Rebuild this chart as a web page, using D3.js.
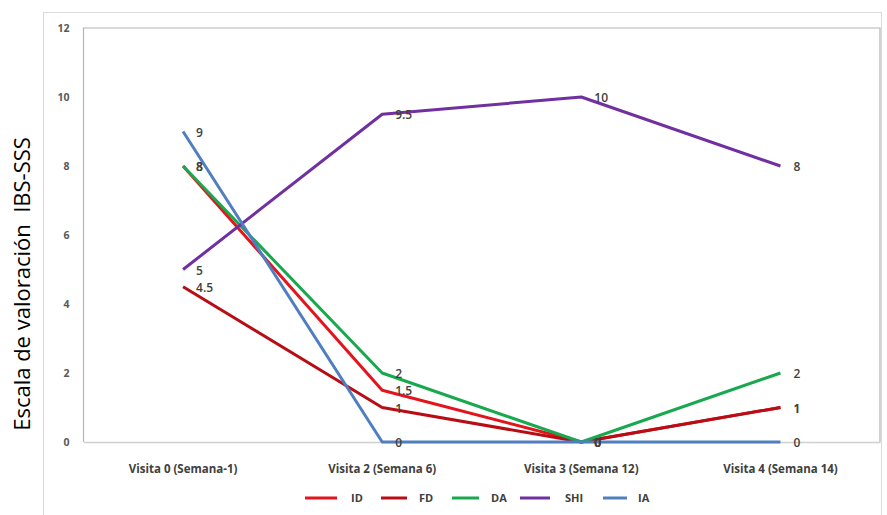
<!DOCTYPE html>
<html><head><meta charset="utf-8">
<script src="https://cdn.jsdelivr.net/npm/d3@7/dist/d3.min.js"></script>
<style>body{margin:0;background:#fff;}svg{display:block;}</style>
</head><body><svg id="c" width="887" height="515"></svg>
<script>
const categories = ["Visita 0 (Semana-1)", "Visita 2 (Semana 6)", "Visita 3 (Semana 12)", "Visita 4 (Semana 14)"];
const seriesNames = ["ID", "FD", "DA", "SHI", "IA"];
const ID  = [8, 1.5, 0, 1];
const FD  = [4.5, 1, 0, 1];
const DA  = [8, 2, 0, 2];
const SHI = [5, 9.5, 10, 8];
const IA  = [9, 0, 0, 0];
const yTicks = [0, 2, 4, 6, 8, 10, 12];
const colors = ["#e3141c", "#b80d14", "#18a84e", "#7030a0", "#4f7fc0"];
const yTitle = "Escala de valoración  IBS-SSS";

const seriesValues = [ID, FD, DA, SHI, IA];
const svg = d3.select("#c");
const pL = 83.5, pR = 880, pT = 28, pB = 442;

// outer frame
svg.append("rect").attr("x", 43.5).attr("y", 12.5).attr("width", 838).attr("height", 510)
  .attr("fill", "none").attr("stroke", "#d9d9d9").attr("stroke-width", 1);

const x = d3.scaleBand().domain(categories).range([pL, pR]);
const y = d3.scaleLinear().domain([0, 12]).range([pB, pT]);

// plot border
svg.append("path").attr("d", `M${pL},${pB}V${pT}H${pR}V${pB}`)
  .attr("fill", "none").attr("stroke", "#b5b5b5").attr("stroke-width", 1.2);

// x axis
const xa = svg.append("g").attr("transform", `translate(0,${pB})`)
  .call(d3.axisBottom(x).tickSize(0).tickPadding(0));
xa.select(".domain").attr("stroke", "#d0d0d0").attr("stroke-width", 1.5);
xa.selectAll("text").attr("y", 27).attr("dy", "0.35em")
  .attr("font-family", "Open Sans").attr("font-weight", "bold").attr("font-size", "11.5px").attr("fill", "#404040");

// y axis
const ya = svg.append("g").attr("transform", `translate(${pL},0)`)
  .call(d3.axisLeft(y).tickValues(yTicks).tickSize(0).tickPadding(14));
ya.select(".domain").remove();
ya.selectAll("text").attr("font-family", "Open Sans").attr("font-weight", "bold")
  .attr("font-size", "10.5px").attr("fill", "#595959");

// y title
svg.append("text").attr("transform", `translate(30,284) rotate(-90)`)
  .attr("text-anchor", "middle").attr("font-family", "Open Sans").attr("font-size", "22px")
  .style("white-space", "pre").attr("fill", "#000").text(yTitle);

const cx = c => x(c) + x.bandwidth() / 2;
const line = d3.line().x((d, i) => cx(categories[i])).y(d => y(d));

seriesValues.forEach((vals, s) => {
  svg.append("path").datum(vals).attr("d", line).attr("fill", "none")
    .attr("stroke", colors[s]).attr("stroke-width", 3).attr("stroke-linejoin", "round");
});
seriesValues.forEach((vals, s) => {
  svg.append("g").selectAll("text").data(vals).join("text")
    .attr("x", (d, i) => cx(categories[i]) + 13).attr("y", d => y(d) + 1)
    .attr("dy", "0.35em").attr("font-family", "Open Sans").attr("font-weight", "600")
    .attr("font-size", "12px").attr("fill", "#404040").text(d => d);
});

// legend
const legX = [305, 381, 452, 520, 603];
const legW = [32, 26, 27, 30, 24];
const legT = [351, 419, 491, 565, 638];
const lg = svg.append("g");
seriesNames.forEach((n, i) => {
  lg.append("line").attr("x1", legX[i]).attr("x2", legX[i] + legW[i]).attr("y1", 498).attr("y2", 498)
    .attr("stroke", colors[i]).attr("stroke-width", 3);
  lg.append("text").attr("x", legT[i]).attr("y", 498).attr("dy", "0.35em")
    .attr("font-family", "Open Sans").attr("font-weight", "bold").attr("font-size", "11px")
    .attr("fill", "#404040").text(n);
});
</script></body></html>
